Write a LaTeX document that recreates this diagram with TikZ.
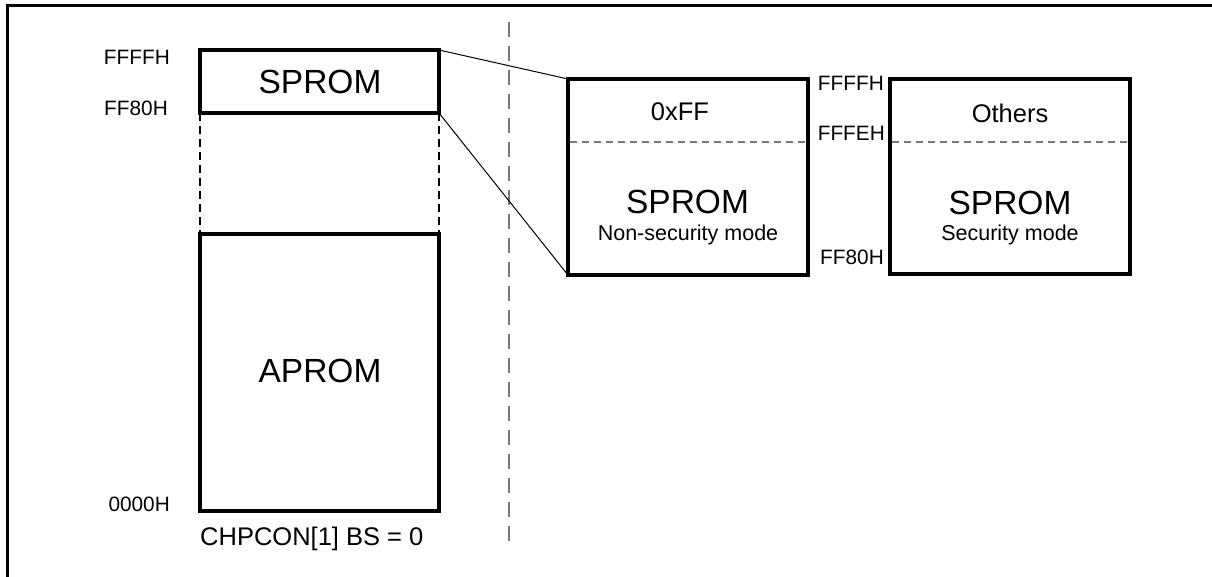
\documentclass[tikz,border=0pt]{standalone}
\usepackage{fontspec}
\setmainfont{Liberation Sans}
\begin{document}
\begin{tikzpicture}[x=1pt,y=-1pt,
  membox/.style={draw=black,line width=3.6pt,rectangle,inner sep=0pt,outer sep=0pt},
  addr/.style={anchor=east,inner sep=0pt,font=\fontsize{20.8}{25}\selectfont},
  bigtxt/.style={inner sep=0pt,font=\fontsize{33.5}{40}\selectfont},
  midtxt/.style={inner sep=0pt,font=\fontsize{25.5}{30}\selectfont},
  smalltxt/.style={inner sep=0pt,font=\fontsize{21.5}{26}\selectfont},
  divider/.style={draw={rgb,255:red,120;green,120;blue,120},line width=1.5pt,dash pattern=on 7pt off 5pt},
  guide/.style={draw=black,line width=1.1pt,dash pattern=on 8pt off 5pt},
  sep/.style={draw={rgb,255:red,120;green,120;blue,120},line width=2pt,dash pattern=on 15pt off 9pt},
  link/.style={draw=black,line width=1pt}]
\useasboundingbox (0,0) rectangle (1212,576);
\clip (0,0) rectangle (1212,576);
\draw[line width=3pt] (7.3,600) -- (7.3,5.5) -- (1230,5.5);

% separator
\coordinate (septop) at (509,22);
\coordinate (sepbot) at (509,546);
\draw[sep] (septop) -- (sepbot);

% left memory map
\node[membox,minimum width=239pt,minimum height=63pt] (sprom) at (319.5,81.5) {};
\node[bigtxt] (sproml) at (320,82) {SPROM};
\node[membox,minimum width=239pt,minimum height=277pt] (aprom) at (319.5,372.5) {};
\node[bigtxt] (aproml) at (320,370.5) {APROM};
\draw[guide] (sprom.south west) -- (aprom.north west);
\draw[guide] (sprom.south east) -- (aprom.north east);
\node[addr] (a1) at (170,57) {FFFFH};
\node[addr] (a2) at (168,108) {FF80H};
\node[addr] (a3) at (170,504) {0000H};
\node[anchor=west,inner sep=0pt,font=\fontsize{25.5}{30}\selectfont] (cap) at (200,539) {CHPCON[1] BS = 0};

% non-security box
\node[membox,minimum width=240pt,minimum height=196pt] (nsbox) at (688,177) {};
\coordinate (nsdl) at (569.5,142);
\coordinate (nsdr) at (806.5,142);
\draw[divider] (nsdl) -- (nsdr);
\node[midtxt] (ff) at (680,112) {0xFF};
\node[bigtxt] (nsl) at (687.5,202) {SPROM};
\node[smalltxt] (nsm) at (688,234.5) {Non-security mode};

% security box
\node[membox,minimum width=240pt,minimum height=195pt] (sbox) at (1010,176.5) {};
\coordinate (sdl) at (891.5,142);
\coordinate (sdr) at (1128.5,142);
\draw[divider] (sdl) -- (sdr);
\node[midtxt] (oth) at (1010,113) {Others};
\node[bigtxt] (sl) at (1010,203) {SPROM};
\node[smalltxt] (sm) at (1010,235) {Security mode};

\node[addr] (b1) at (884,83) {FFFFH};
\node[addr] (b2) at (885,133) {FFFEH};
\node[addr] (b3) at (884,257) {FF80H};

% zoom links
\draw[link] (sprom.north east) -- (nsbox.north west);
\draw[link] (sprom.south east) -- (nsbox.south west);
\end{tikzpicture}
\end{document}
